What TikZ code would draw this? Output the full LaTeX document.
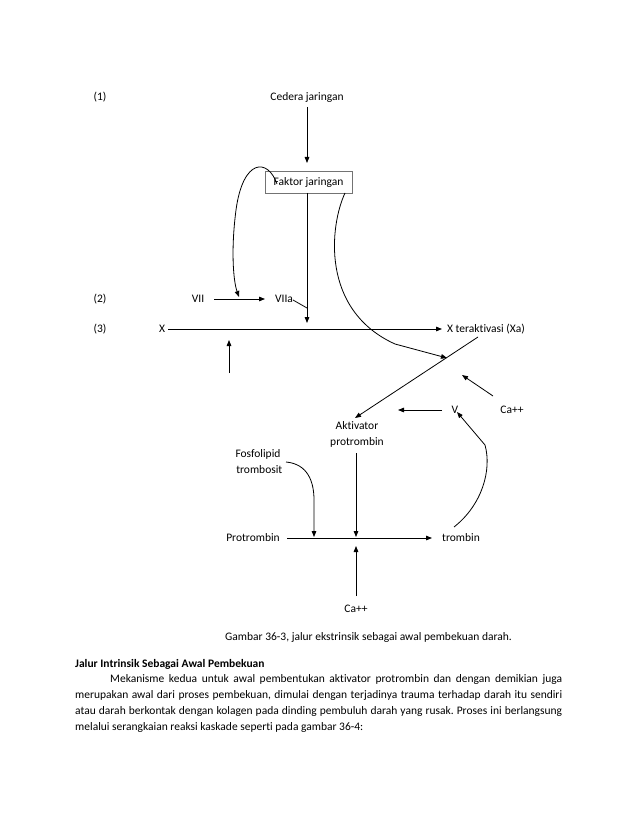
\documentclass[tikz,border=0pt]{standalone}
\usepackage{fontspec}
\setmainfont{Carlito}[Ligatures={NoCommon}]
\usetikzlibrary{arrows.meta}
\begin{document}
\frenchspacing
\begin{tikzpicture}[x=1pt,y=-1pt,
  every node/.style={font=\fontsize{11.5}{16}\selectfont, inner sep=0pt},
  ln/.style={line width=0.8pt, black},
  arr/.style={ln, -{Triangle[length=6pt,width=4.6pt]}},
  lbl/.style={anchor=center}]
\useasboundingbox (0,0) rectangle (638,826);
\fill[white] (0,0) rectangle (638,826);

% labels
\node[lbl] (n1) at (100,97) {(1)};
\node[lbl] (n2) at (100,299) {(2)};
\node[lbl] (n3) at (100,329) {(3)};
\node[lbl] (ced) at (307,97) {Cedera jaringan};
\node[draw=black!55, line width=0.7pt, minimum width=87pt, minimum height=22pt] (fak) at (308.5,182) {Faktor jaringan};
\node[lbl] (vii) at (198,299) {VII};
\node[lbl] (viia) at (284,299) {VIIa};
\node[lbl] (x) at (162,329) {X};
\node[lbl] (xa) at (486,329) {X teraktivasi (Xa)};
\node[lbl] (v) at (455,410) {V};
\node[lbl] (ca1) at (512,410) {Ca++};
\node[lbl, align=center] (akt) at (357,434) {Aktivator\\protrombin};
\node[lbl, align=center] (fos) at (258,462) {Fosfolipid\\\ trombosit};
\node[lbl] (pro) at (253,538) {Protrombin};
\node[lbl] (trb) at (461,538) {trombin};
\node[lbl] (ca2) at (356,609) {Ca++};

% coordinates
\coordinate (cedS) at (307,107);
\coordinate (fakT) at (307,163);
\coordinate (fakB) at (307,193);
\coordinate (xJoin) at (307,323);
\coordinate (viiaJ) at (307,308);
\coordinate (viiaE) at (293,300);
\coordinate (viiS) at (214,299);
\coordinate (viiE) at (265,299);
\coordinate (loopS) at (277,184);
\coordinate (loopE) at (239,297);
\coordinate (xS) at (168,329);
\coordinate (xE) at (442,329);
\coordinate (upS) at (229,373);
\coordinate (upE) at (229,340);
\coordinate (rcS) at (345,193);
\coordinate (rcK) at (395,344);
\coordinate (rcE) at (447,358);
\coordinate (dgS) at (478,337);
\coordinate (dgE) at (355,418);
\coordinate (caS) at (493,396);
\coordinate (caE) at (462,375);
\coordinate (vS) at (442,410);
\coordinate (vE) at (398,410);
\coordinate (tbS) at (454,527);
\coordinate (tbK) at (485,445);
\coordinate (tbE) at (457,412);
\coordinate (akS) at (356,453);
\coordinate (akE) at (356,537);
\coordinate (fsS) at (286,462);
\coordinate (fsK) at (314,500);
\coordinate (fsE) at (314,537);
\coordinate (prS) at (287,538);
\coordinate (prE) at (432,538);
\coordinate (c2S) at (356,596);
\coordinate (c2E) at (356,546);

% connectors
\draw[arr] (cedS) -- (fakT);
\draw[arr] (fakB) -- (xJoin);
\draw[ln] (viiaE) -- (viiaJ);
\draw[arr] (viiS) -- (viiE);
\draw[arr] (loopS) .. controls (268,158) and (243,158) .. (236,210) .. controls (231,248) and (233,280) .. (loopE);
\draw[arr] (xS) -- (xE);
\draw[arr] (upS) -- (upE);
\draw[arr] (rcS) .. controls (330,225) and (320,310) .. (rcK) -- (rcE);
\draw[arr] (dgS) -- (dgE);
\draw[arr] (caS) -- (caE);
\draw[arr] (vS) -- (vE);
\draw[arr] (tbS) .. controls (482,505) and (492,470) .. (tbK) -- (tbE);
\draw[arr] (akS) -- (akE);
\draw[arr] (fsS) .. controls (308,464) and (314,482) .. (fsK) -- (fsE);
\draw[arr] (prS) -- (prE);
\draw[arr] (c2S) -- (c2E);

% text below
\node[anchor=west] (cap) at (225,637) {Gambar 36-3, jalur ekstrinsik sebagai awal pembekuan darah.};
\node[anchor=west, font=\fontsize{11.5}{16}\selectfont\bfseries] (head) at (75,664) {Jalur Intrinsik Sebagai Awal Pembekuan};
\node[anchor=north west, text width=487pt, align=justify] (para) at (75,674)
{\hspace*{35pt}Mekanisme kedua untuk awal pembentukan aktivator protrombin dan dengan demikian juga\linebreak
merupakan awal dari proses pembekuan, dimulai dengan terjadinya trauma terhadap darah itu sendiri\linebreak
atau darah berkontak dengan kolagen pada dinding pembuluh darah yang rusak. Proses ini berlangsung\linebreak
melalui serangkaian reaksi kaskade seperti pada gambar 36-4:};
\end{tikzpicture}
\end{document}
